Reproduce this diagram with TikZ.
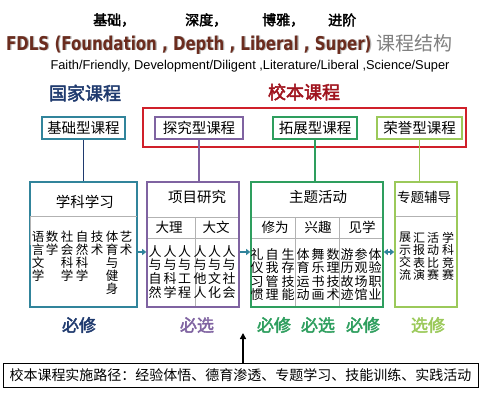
\documentclass[tikz,border=0pt]{standalone}
\usepackage{fontspec}
\setmainfont{Liberation Sans}
\newfontfamily\cjk[AutoFakeBold=2.5]{Noto Sans CJK SC}
\newfontfamily\ttlfont[FakeStretch=0.79]{DejaVu Sans}
\usetikzlibrary{arrows.meta,calc}
\definecolor{cteal}{HTML}{31849B}
\definecolor{cnavy}{HTML}{1F3A6E}
\definecolor{cpurp}{HTML}{7F63A1}
\definecolor{cgreen}{HTML}{2E9E5E}
\definecolor{clight}{HTML}{9BC95A}
\definecolor{cred}{HTML}{D0202A}
\definecolor{cdred}{HTML}{A0141E}
\definecolor{cbrown}{HTML}{6B2C1E}
\tikzset{
  bigbox/.style={draw, line width=1.6pt, minimum height=125pt, inner sep=0pt},
  smallbox/.style={draw, line width=1.4pt, minimum height=22pt, inner sep=0pt, fill=white,
     font=\cjk\fontsize{14.5}{15}\selectfont},
  vtxt/.style={anchor=north, align=center, inner sep=0pt, font=\cjk\fontsize{12.5}{13}\selectfont},
  btitle/.style={inner sep=0pt, font=\cjk\fontsize{14.5}{15}\selectfont},
  sub/.style={inner sep=0pt, font=\cjk\fontsize{13.5}{14}\selectfont},
  tag/.style={inner sep=0pt, font=\cjk\bfseries\fontsize{17}{18}\selectfont},
  sep/.style={draw=gray!60, line width=0.7pt},
  link/.style={line width=1.6pt},
  conn/.style={draw=cteal, line width=2.4pt, -{Triangle[length=4pt,width=6pt]}},
}
\begin{document}
\begin{tikzpicture}[x=1pt,y=-1pt]
\useasboundingbox (0,0) rectangle (491,400);
% titles
\begin{scope}[every node/.style={inner sep=0pt, anchor=west, font=\cjk\bfseries\fontsize{14}{15}\selectfont}]
\node (t1) at (93,20) {基础，};
\node (t2) at (185,20) {深度，};
\node (t3) at (262,20) {博雅，};
\node (t4) at (328,20) {进阶};
\end{scope}
\node[inner sep=0pt, anchor=west, text=gray!60] at (7.2,45.2) {\ttlfont\bfseries\fontsize{19}{20}\selectfont FDLS (Foundation , Depth , Liberal , Super)};
\node (ttl) [inner sep=0pt, anchor=west, text=cbrown] at (6,44) {\ttlfont\bfseries\fontsize{19}{20}\selectfont FDLS (Foundation , Depth , Liberal , Super) \textcolor{gray}{\cjk\mdseries 课程结构}};
\node (sub) [inner sep=0pt, font=\fontsize{12.8}{13}\selectfont] at (250,66) {Faith/Friendly, Development/Diligent ,Literature/Liberal ,Science/Super};
\node (gj) [inner sep=0pt, text=cnavy, font=\cjk\bfseries\fontsize{18}{19}\selectfont] at (85,93) {国家课程};
\node (xb) [inner sep=0pt, text=cdred, font=\cjk\bfseries\fontsize{18}{19}\selectfont] at (304,92) {校本课程};
% red frame
\node (rf) [draw=cred, line width=1.3pt, minimum width=323pt, minimum height=39pt, inner sep=0pt] at (304.5,127.5) {};
% small boxes
\node (s1) [smallbox, draw=cteal, minimum width=83pt] at (83.5,128) {基础型课程};
\node (s2) [smallbox, draw=cpurp, minimum width=88pt] at (199,128) {探究型课程};
\node (s3) [smallbox, draw=cgreen, minimum width=84pt] at (315,128) {拓展型课程};
\node (s4) [smallbox, draw=clight, minimum width=85pt] at (419.5,128) {荣誉型课程};
% big boxes
\node (B1) [bigbox, draw=cteal, minimum width=107pt] at (83.5,244.5) {};
\node (B2) [bigbox, draw=cpurp, minimum width=92pt] at (193,244.5) {};
\node (B3) [bigbox, draw=cgreen, minimum width=132pt] at (317,244.5) {};
\node (B4) [bigbox, draw=clight, minimum width=62pt] at (426,244.5) {};
% links
\draw[link, draw=cnavy] (s1.south) -- (s1.south |- B1.north);
\draw[link, draw=cpurp] (s2.south) -- (s2.south |- B2.north);
\draw[link, draw=cgreen] (s3.south) -- (s3.south |- B3.north);
\draw[link, draw=clight] (s4.south) -- (s4.south |- B4.north);
% box 1
\node[btitle] at (85,202) {学科学习};
\draw[sep] ($(B1.west)+(1,0)$) |- ++(0,-28.5) -| ($(B1.east)+(-1,-28.5)$);
\node[vtxt] at (38,231) {语\\言\\文\\学};
\node[vtxt] at (52,231) {数\\学};
\node[vtxt] at (67,231) {社\\会\\科\\学};
\node[vtxt] at (82,231) {自\\然\\科\\学};
\node[vtxt] at (97,231) {技\\术};
\node[vtxt] at (112,231) {体\\育\\与\\健\\身};
\node[vtxt] at (126,231) {艺\\术};
% box 2
\node[btitle] at (197,197) {项目研究};
\draw[sep] (148,217) -- (238,217);
\draw[sep] (148,238) -- (238,238);
\draw[sep] (195,217) -- (195,306);
\node[sub] at (169,227.5) {大理};
\node[sub] at (216,227.5) {大文};
\begin{scope}[every node/.style={vtxt, font=\cjk\fontsize{13}{13.7}\selectfont}]
\node at (155,245) {人\\与\\自\\然};
\node at (170,245) {人\\与\\科\\学};
\node at (184.5,245) {人\\与\\工\\程};
\node at (200,245) {人\\与\\他\\人};
\node at (214.5,245) {人\\与\\文\\化};
\node at (229,245) {人\\与\\社\\会};
\end{scope}
% box 3
\node[btitle] at (318,197) {主题活动};
\draw[sep] (252,217) -- (382,217);
\draw[sep] (252,238) -- (382,238);
\draw[sep] (295,217) -- (295,306);
\draw[sep] (339,217) -- (339,306);
\node[sub] at (275,227.5) {修为};
\node[sub] at (318,227.5) {兴趣};
\node[sub] at (362,227.5) {见学};
\begin{scope}[every node/.style={vtxt, font=\cjk\fontsize{13}{13.5}\selectfont}]
\node at (257,248) {礼\\仪\\习\\惯};
\node at (272,248) {自\\我\\管\\理};
\node at (288,248) {生\\存\\技\\能};
\node at (303,248) {体\\育\\运\\动};
\node at (318,248) {舞\\乐\\书\\画};
\node at (333,248) {数\\理\\技\\术};
\node at (347,248) {游\\历\\故\\迹};
\node at (361,248) {参\\观\\场\\馆};
\node at (375,248) {体\\验\\职\\业};
\end{scope}
% box 4
\node[btitle, font=\cjk\fontsize{13.5}{14}\selectfont] at (424,197) {专题辅导};
\draw[sep] (396,216) -- (456,216);
\begin{scope}[every node/.style={vtxt, font=\cjk\fontsize{12}{12.5}\selectfont}]
\node at (405,232) {展\\示\\交\\流};
\node at (419,232) {汇\\报\\表\\演};
\node at (433,232) {活\\动\\比\\赛};
\node at (448,232) {学\\科\\竞\\赛};
\end{scope}
% connectors
\draw[conn] (B1.east |- 0,252) -- (B2.west |- 0,252);
\draw[conn] (B2.east |- 0,252) -- (B3.west |- 0,252);
\draw[conn, {Triangle[length=4pt,width=6pt]}-{Triangle[length=4pt,width=6pt]}] (B3.east |- 0,252) -- (B4.west |- 0,252);
% tags
\node[tag, text=cnavy] at (79,325) {必修};
\node[tag, text=cpurp] at (197,325) {必选};
\node[tag, text=cgreen] at (274,325) {必修};
\node[tag, text=cgreen] at (318,325) {必选};
\node[tag, text=cgreen] at (363,325) {必修};
\node[tag, text=clight] at (428,325) {选修};
% bottom
\node (bot) [draw, line width=1pt, minimum width=475pt, minimum height=24pt, inner sep=0pt,
   font=\cjk\fontsize{14}{15}\selectfont] at (240.5,375) {校本课程实施路径：经验体悟、德育渗透、专题学习、技能训练、实践活动};
\coordinate (up) at (243,333);
\draw[line width=1.5pt, -{Triangle[length=6pt,width=6pt]}] (bot.north -| up) -- (up);
\end{tikzpicture}
\end{document}
